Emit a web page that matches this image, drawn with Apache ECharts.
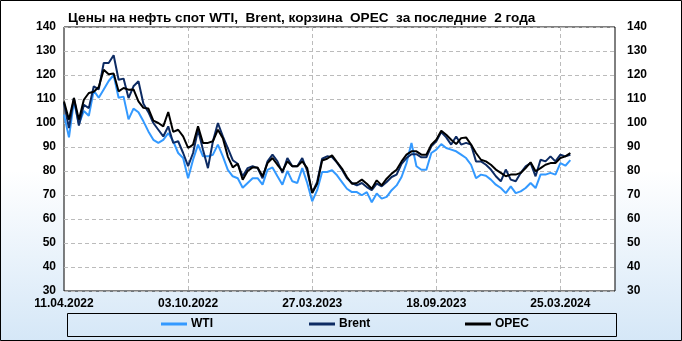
<!DOCTYPE html>
<html>
<head>
<meta charset="utf-8">
<script src="https://cdn.jsdelivr.net/npm/echarts@6/dist/echarts.min.js"></script>
<style>html,body{margin:0;padding:0;background:#fff}#c{width:682px;height:341px}</style>
</head>
<body>
<div id="c"></div>
<script>
var titleText = 'Цены на нефть спот WTI,  Brent, корзина  OPEC  за последние  2 года';
var seriesNames = ['WTI', 'Brent', 'OPEC'];
var tickLabels = ['11.04.2022', '03.10.2022', '27.03.2023', '18.09.2023', '25.03.2024'];
var yTicks = [30, 40, 50, 60, 70, 80, 90, 100, 110, 120, 130, 140];

var wti = [103.5,94,109,99.5,105,103,113.5,110.5,114,117.5,120,110.5,111,101.5,106,104.5,100.7,96.5,93,91.7,
  93,95.8,92.4,87.5,85.4,77,84.7,91,86.1,86.1,86.8,91,86.1,80.5,77.8,77,73,75,77,77,
  74.3,80.5,81.5,77.8,74.3,80,75.7,75,81.2,75,67.4,72,79.6,79.6,80.3,78.2,75.4,72.6,71.2,71.2,
  69.9,71.2,67,70.6,68.5,69.2,72,74,77.5,83.3,91.7,82,80.5,80.5,87.5,88.9,91.2,89.6,88.9,88.2,
  86.8,85.4,82.6,77,78.5,78,76.4,74.3,72.9,70.8,73.6,70.8,71.5,72.9,75,72.9,78.5,78.5,79.2,78.5,
  83.3,82.2,84.5];
var brent = [108.3,97.9,110.4,98.9,107.6,106.2,115.3,114,125,125,128.2,118,118.5,110.4,115.3,117.4,108,104.5,100,97.2,
  94.4,98.6,91.7,92.4,87.5,82,87.5,97.2,88.9,81.2,92.4,100,94.4,89.5,84.5,83,77.8,81.2,82,81.2,
  77,84,86.8,84,79.2,85.4,82,82,85.4,80,71,75.5,85.1,86.1,85.8,83.5,80.5,77,75,74,
  75,73.3,72,74.7,73.6,75.4,77.5,78.5,83,85.4,87,87,85.7,85.7,90.3,92.4,96.2,94,91,94.4,
  91,91.7,91,84,84,82.6,80.6,77.8,75.7,80.6,76.4,75.7,79.2,81.9,83.3,77.8,84.7,84,86.1,84,
  86.8,86.1,86.8];
var opec = [109,101.4,110.4,101.4,109.7,112.5,113,115,122.2,120.3,120.6,113.2,114.6,113.9,114,109,106.3,106,101,100,
  98.6,104.6,96.3,97.2,94.4,89.6,91,98.6,91.7,91.7,92.4,97.2,93.7,86,81.5,83,76.4,80,81.5,81.5,
  77.8,83.3,85.4,82.6,80,84,82,82,84,81.2,70.8,74.7,84.4,85.1,86.5,83.7,81,77.5,74.7,75,
  76.4,74.7,72.6,76.1,74,76.8,78.9,80.5,84,86.8,88.2,88.2,86.8,86.8,91,93,96.8,95.1,93,91.2,
  93.7,94,91,87.5,84.7,84,82.6,80.6,79.2,77.8,78.5,78.5,79.2,81.2,83.6,79.9,81.2,82.6,83.3,83.3,
  85.4,86.1,87.5];

// weekly category dates (two holiday weeks missing at the turn of 2023/24)
var categories = [];
(function () {
  var d = new Date(Date.UTC(2022, 3, 11));
  var skip = {'25.12.2023': 1, '01.01.2024': 1};
  function fmt(t) {
    var dd = ('0' + t.getUTCDate()).slice(-2), mm = ('0' + (t.getUTCMonth() + 1)).slice(-2);
    return dd + '.' + mm + '.' + t.getUTCFullYear();
  }
  while (categories.length < 112) {
    var s = fmt(d);
    if (!skip[s]) categories.push(s);
    d = new Date(d.getTime() + 7 * 86400000);
  }
})();

var chart = echarts.init(document.getElementById('c'), null, {renderer: 'canvas'});
var lbl = {fontFamily: 'Liberation Sans', fontWeight: 'bold', fontSize: 12, color: '#000'};
var yAxisBase = {
  type: 'value', min: 30, max: 140, interval: 10,
  axisLine: {show: false}, axisTick: {show: false},
  splitLine: {show: true, lineStyle: {color: '#BBBBBB', type: [4, 3], width: 1}}
};
function isTick(i) { return tickLabels.indexOf(categories[i]) >= 0; }

chart.setOption({
  animation: false,
  backgroundColor: {
    type: 'linear', x: 0, y: 0, x2: 0, y2: 1,
    colorStops: [{offset: 0, color: '#FFFFFF'}, {offset: 0.5, color: '#FFFFFF'}, {offset: 1, color: '#D5E7F7'}]
  },
  title: {
    text: titleText, left: 63, top: 6,
    textStyle: {fontFamily: 'Liberation Sans', fontWeight: 'bold', fontSize: 13.6, color: '#000'}
  },
  grid: {left: 64, right: 67, top: 27, bottom: 50, show: true, backgroundColor: '#FFFFFF', borderColor: '#000', borderWidth: 1},
  xAxis: {
    type: 'category', data: categories, boundaryGap: false,
    axisLine: {show: false}, axisTick: {show: false},
    axisLabel: Object.assign({interval: function (i) { return isTick(i); }, margin: 7}, lbl),
    splitLine: {show: true, interval: function (i) { return isTick(i) && i > 0; }, lineStyle: {color: '#BBBBBB', type: [4, 3], width: 1}}
  },
  yAxis: [
    Object.assign({position: 'left', axisLabel: Object.assign({margin: 8}, lbl)}, yAxisBase),
    Object.assign({position: 'right', axisLabel: Object.assign({margin: 12}, lbl)}, yAxisBase)
  ],
  legend: [
    {data: [seriesNames[0]], left: 161, top: 318},
    {data: [seriesNames[1]], left: 309, top: 318},
    {data: [seriesNames[2]], left: 465, top: 318}
  ].map(function (l) {
    return Object.assign(l, {icon: 'rect', itemWidth: 26, itemHeight: 3, itemGap: 4, padding: 0,
      textStyle: {fontFamily: 'Liberation Sans', fontWeight: 'bold', fontSize: 12, color: '#000', padding: [0, 0, 0, -1]}});
  }),
  graphic: [
    {type: 'rect', shape: {x: 0.5, y: 0.5, width: 681, height: 340}, style: {fill: 'none', stroke: '#000', lineWidth: 1}, z: 100},
    {type: 'rect', shape: {x: 67.5, y: 313.5, width: 549, height: 23}, style: {fill: 'none', stroke: '#000', lineWidth: 1}, z: 100}
  ],
  series: [
    {name: seriesNames[0], type: 'line', data: wti, yAxisIndex: 0, showSymbol: false, symbol: 'none', color: '#3399FF', lineStyle: {width: 2, color: '#3399FF'}},
    {name: seriesNames[1], type: 'line', data: brent, yAxisIndex: 0, showSymbol: false, symbol: 'none', color: '#0D2B63', lineStyle: {width: 2, color: '#0D2B63'}},
    {name: seriesNames[2], type: 'line', data: opec, yAxisIndex: 0, showSymbol: false, symbol: 'none', color: '#000000', lineStyle: {width: 2, color: '#000000'}}
  ]
});
</script>
</body>
</html>
